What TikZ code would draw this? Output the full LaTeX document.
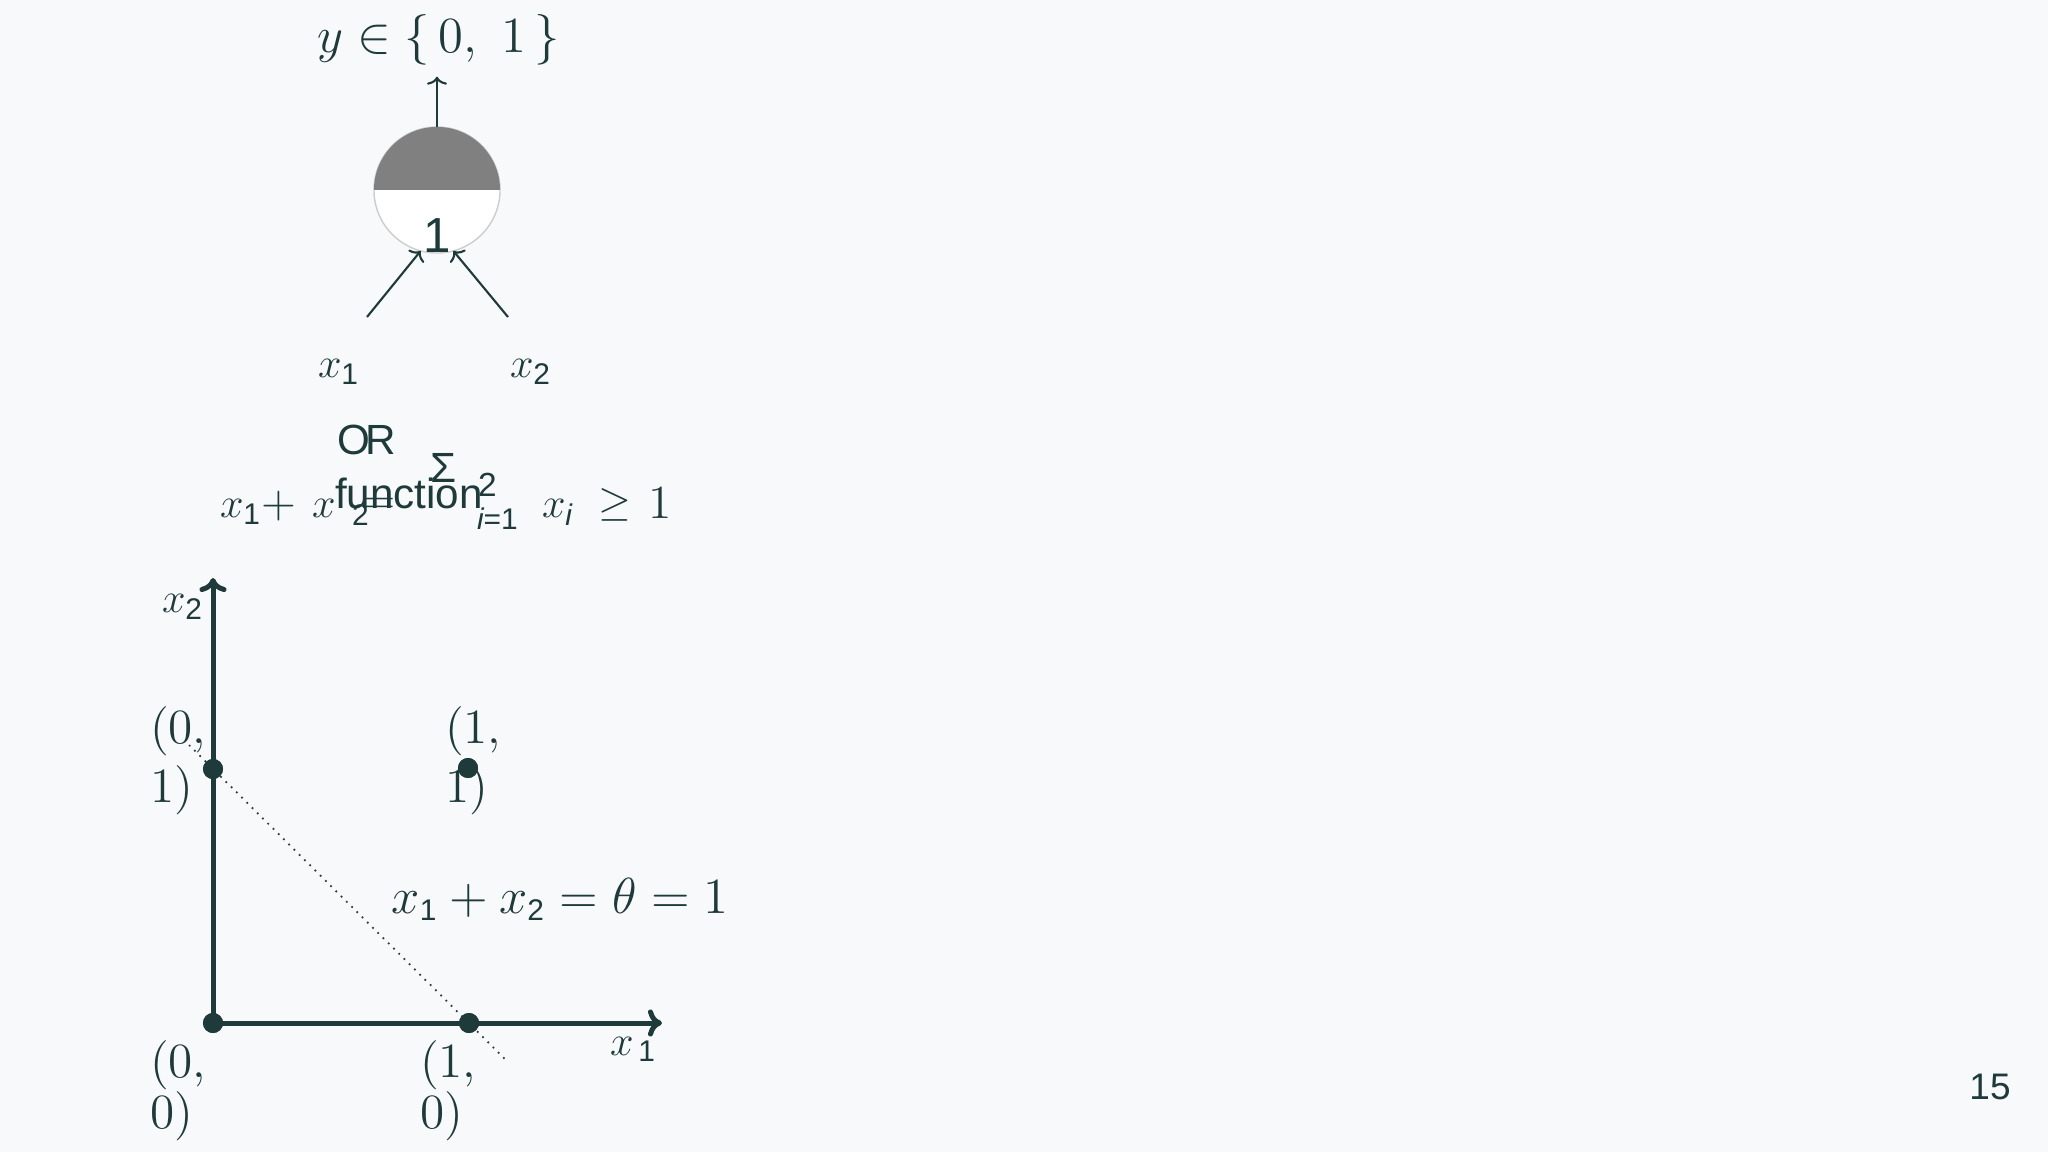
\documentclass[tikz,border=0pt]{standalone}
\usepackage{fontspec}
\newfontfamily\arialf{Liberation Sans}
\usetikzlibrary{arrows.meta}
\definecolor{ink}{HTML}{1F3A3B}
\definecolor{bgc}{HTML}{F8F9FA}
\definecolor{ringc}{HTML}{CDCDCD}
\definecolor{halfc}{HTML}{808080}
\definecolor{dotline}{HTML}{2E3E3E}
\newcommand{\fsz}[2]{\fontsize{#1}{#2}\selectfont}
\newcommand{\ssub}[1]{_{\mbox{\arialf\fontsize{8.5}{10}\selectfont #1}}}
\begin{document}
\begin{tikzpicture}[x=0.01cm,y=-0.01cm,
  every node/.style={text=ink, inner sep=0pt, outer sep=0pt},
  txt/.style={anchor=base west},
  mathbig/.style={font=\fsz{13}{15}},
  sansl/.style={font=\arialf\fsz{12}{14}},
  ptlbl/.style={anchor=base west, font=\fsz{14}{16.8}},
  ptlblb/.style={anchor=base west, font=\fsz{14}{14.2}},
  neuronc/.style={circle, minimum size=1.26cm, fill=white, draw=ringc, line width=0.4pt},
  thinarrow/.style={draw=ink, line width=0.6pt, -{Computer Modern Rightarrow[length=0.08cm,width=0.2cm]}},
  axisline/.style={draw=ink, line width=0.05cm, -{Computer Modern Rightarrow[length=0.14cm,width=0.27cm]}},
  ptdot/.style={circle, fill=ink, minimum size=0.2cm, inner sep=0pt},
  sepline/.style={draw=dotline, line width=0.5pt, dash pattern=on 0.5pt off 1.6pt}
]
\fill[bgc] (0,0) rectangle (2048,1152);
\useasboundingbox (0,0) rectangle (2048,1152);

% ---- neuron ----
\node[neuronc] (neuron) at (437,190) {};
\begin{scope}
  \clip (neuron.west) rectangle (neuron.north -| neuron.east);
  \fill[halfc] (neuron.center) circle[radius=0.63cm];
\end{scope}
\node[anchor=base, font=\arialf\fsz{14}{16}] (nlabel) at (437,253) {1};

\node[txt, font=\fsz{14}{16}] (ylabel) at (317,53) {$y \in \{\,0,\ 1\,\}$};
\draw[thinarrow, shorten >=0.11cm] (neuron.north) -- (neuron.north |- ylabel.south);

\node[txt, mathbig] (in1) at (318,378) {$x\ssub{1}$};
\node[txt, mathbig] (in2) at (510,378) {$x\ssub{2}$};
\coordinate (in1s) at (367,317);
\coordinate (in2s) at (508,317);
\draw[thinarrow] (in1s) -- (neuron.255);
\draw[thinarrow] (in2s) -- (neuron.285);

% ---- OR function / formula (overlapping as printed) ----
\node[txt, sansl] (orlbl) at (337,455) {O\kern-0.1em R};
\node[txt, sansl] (fnlbl) at (335,509) {function};

\node[txt, mathbig] (f1) at (220,518) {$x\ssub{1}$+};
\node[txt, mathbig] (f2) at (312,518) {$x$};
\node[txt, font=\arialf\fsz{8.5}{10}] (f3) at (352,525) {2};
\node[txt, mathbig] (f4) at (363,514) {$=$};
\node[txt, font=\arialf\fsz{12}{14}] (f5) at (430,482) {Σ};
\node[txt, font=\arialf\fsz{9.5}{11}] (f6) at (478,497) {2};
\node[txt, font=\arialf\fsz{8.5}{10}] (f7) at (477,530) {{\itshape i}=1};
\node[txt, mathbig] (f8) at (542,518) {$x\ssub{\itshape i}$};
\node[txt, mathbig] (f9) at (598,515) {$\geq$};
\node[txt, font=\fsz{13.5}{15}] (f10) at (648,519) {1};

% ---- plot ----
\node[ptdot] (p00) at (213,1023) {};
\node[ptdot] (p10) at (469,1023) {};
\node[ptdot] (p01) at (213,769) {};
\node[ptdot] (p11) at (468,768) {};
\coordinate (ytip) at (213,578);
\coordinate (xtip) at (662,1023);
\coordinate (ds) at (189,745);
\coordinate (de) at (507,1061);

\draw[sepline] (ds) -- (de);
\draw[axisline] (p00.center) -- (ytip);
\draw[axisline] (p00.center) -- (xtip);
\node[ptdot] at (p00) {};
\node[ptdot] at (p10) {};
\node[ptdot] at (p01) {};
\node[ptdot] at (p11) {};

\node[txt, mathbig] (ax2) at (162,613) {$x\ssub{2}$};
\node[txt, mathbig] (ax1) at (610,1055) {$x\ssub{\,1}$};

\node[ptlbl] (l01) at (150,743) {\begin{tabular}[t]{@{}l@{}}(0,\\1)\end{tabular}};
\node[ptlbl] (l11) at (445,743) {\begin{tabular}[t]{@{}l@{}}(1,\\1)\end{tabular}};
\node[ptlblb] (l00) at (150,1077) {\begin{tabular}[t]{@{}l@{}}(0,\\0)\end{tabular}};
\node[ptlblb] (l10) at (420,1077) {\begin{tabular}[t]{@{}l@{}}(1,\\0)\end{tabular}};

\node[anchor=base, font=\fsz{14}{16}] (eq) at (560,913) {$x\ssub{1} + x\ssub{2} = \theta = 1$};

\node[anchor=base, font=\arialf\fsz{10.5}{12}] (pg) at (1990,1099) {15};
\end{tikzpicture}
\end{document}
